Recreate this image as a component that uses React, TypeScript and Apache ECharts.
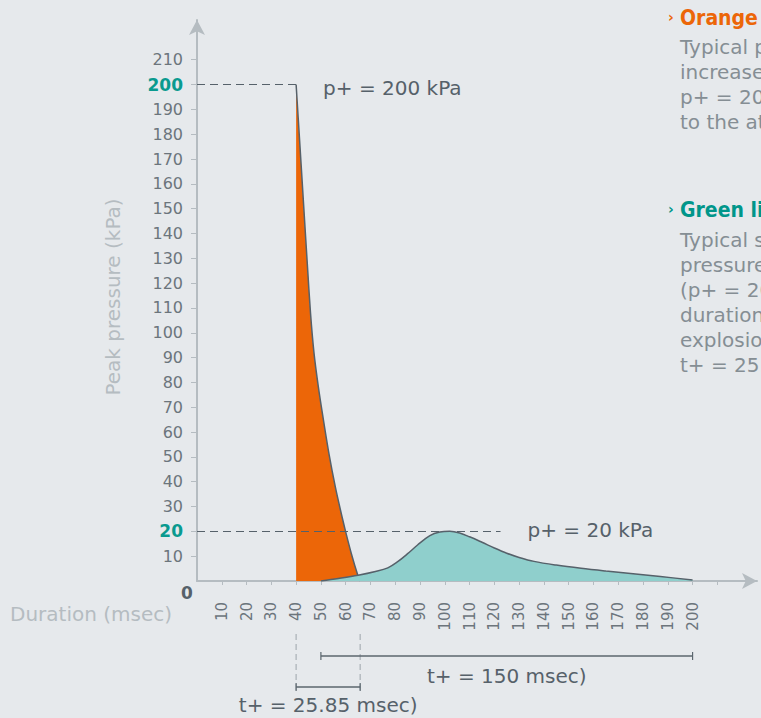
import React, { useEffect, useRef } from "react";
import * as echarts from "echarts";

// ---- data ----
const orangeT = [40, 41.5, 43, 44.5, 45.8, 47.2, 49, 51, 53.3, 55.8, 57.8, 59.8, 62.3, 64.9, 65.85];
const orangeP = [200, 176, 152, 128, 108, 92, 78, 65, 51, 38, 29, 20.6, 11, 2.3, 0];

const greenT = [50, 57, 65, 72, 77, 81, 85, 89, 94, 98, 102, 106, 110, 115, 120, 125, 130, 136, 145, 155, 165, 175, 187, 200];
const greenP = [0, 1.0, 2.3, 3.8, 5.3, 7.8, 11, 14.5, 18.3, 19.7, 20, 19.3, 17.8, 15.6, 13.3, 11.2, 9.5, 7.9, 6.4, 5.1, 4.0, 3.0, 1.8, 0.4];

const peakOrange = 200;
const peakGreen = 20;
const orangeStart = 40;
const orangeDuration = 25.85;
const greenStart = 50;
const greenDuration = 150;
const greenRefEnd = 122.5;

const xTickValues = [10, 20, 30, 40, 50, 60, 70, 80, 90, 100, 110, 120, 130, 140, 150, 160, 170, 180, 190, 200, 210];
const xLabelValues = [10, 20, 30, 40, 50, 60, 70, 80, 90, 100, 110, 120, 130, 140, 150, 160, 170, 180, 190, 200];
const yTickValues = [10, 20, 30, 40, 50, 60, 70, 80, 90, 100, 110, 120, 130, 140, 150, 160, 170, 180, 190, 200, 210];
const yHighlight = [20, 200];

const orangeText = ["Orange line:", "Typical peak pressure", "increase of detonation", "p+ = 200 kPa to 20 kPa", "to the atmosphere"];
const greenText = ["Green line:", "Typical shock wave", "pressure of deflagration", "(p+ = 20 kPa) with longer", "duration than the", "explosion of detonation", "t+ = 25.85 msec"];

const FONT = "DejaVu Sans";
const AXIS = "#b5bcc1";
const LABEL = "#6c757c";
const DARK = "#56616a";
const ORANGE = "#ec6608";
const TEAL = "#00968a";
const TEAL_FILL = "#8fcfcc";
const BG = "#e6e9ec";

export default function App() {
  const ref = useRef<HTMLDivElement>(null);
  useEffect(() => {
    if (!ref.current) return;
    const chart = echarts.init(ref.current, undefined, { renderer: "svg" });
    const option: any = {
      animation: false,
      backgroundColor: BG,
      textStyle: { fontFamily: FONT },
      grid: { left: 197, right: 4, top: 20, bottom: 137, containLabel: false },
      xAxis: {
        type: "value",
        min: 0,
        max: 226,
        axisLine: { show: true, lineStyle: { color: AXIS, width: 2 }, symbol: ["none", "arrow"], symbolSize: [12, 15] },
        axisTick: { show: true, customValues: xTickValues, length: 4, lineStyle: { color: AXIS, width: 1 } },
        axisLabel: { customValues: xLabelValues, rotate: 90, margin: 21, fontSize: 15, color: LABEL, fontFamily: FONT },
        splitLine: { show: false },
      },
      yAxis: {
        type: "value",
        min: 0,
        max: 226,
        axisLine: { show: true, lineStyle: { color: AXIS, width: 2 }, symbol: ["none", "arrow"], symbolSize: [12, 15] },
        axisTick: { show: true, customValues: yTickValues, length: 6, lineStyle: { color: AXIS, width: 1 } },
        axisLabel: {
          customValues: yTickValues,
          margin: 14,
          fontFamily: FONT,
          formatter: (v: number) => (yHighlight.includes(v) ? `{b|${v}}` : `{n|${v}}`),
          rich: {
            n: { fontSize: 16, color: LABEL, fontFamily: FONT },
            b: { fontSize: 17, color: "#0a9a8f", fontWeight: "bold", fontFamily: FONT },
          },
        },
        splitLine: { show: false },
      },
      series: [
        {
          type: "line",
          z: 1,
          data: [],
          markLine: {
            silent: true,
            symbol: ["none", "none"],
            label: { show: false },
            lineStyle: { type: [8, 5], color: DARK, width: 1.2 },
            data: [
              [{ coord: [0, peakOrange] }, { coord: [orangeStart, peakOrange] }],
              [{ coord: [0, peakGreen] }, { coord: [greenRefEnd, peakGreen] }],
            ],
          },
        },
        {
          type: "line",
          z: 3,
          showSymbol: false,
          smooth: 0.3,
          data: orangeT.map((t, i) => [t, orangeP[i]]),
          lineStyle: { color: DARK, width: 1.5 },
          areaStyle: { color: ORANGE, opacity: 1 },
        },
        {
          type: "line",
          z: 4,
          showSymbol: false,
          smooth: 0.35,
          data: greenT.map((t, i) => [t, greenP[i]]),
          lineStyle: { color: DARK, width: 1.5 },
          areaStyle: { color: TEAL_FILL, opacity: 1 },
        },
      ],
    };
    chart.setOption(option);

    const px = (x: number, y: number) => chart.convertToPixel({ xAxisIndex: 0, yAxisIndex: 0 }, [x, y]) as number[];
    const o = px(0, 0);
    const axisY = o[1];
    const p40 = px(orangeStart, 0);
    const p65 = px(orangeStart + orangeDuration, 0);
    const p50 = px(greenStart, 0);
    const p200 = px(greenStart + greenDuration, 0);
    const yPeakO = px(0, peakOrange)[1];
    const yPeakG = px(0, peakGreen)[1];
    const xRefEnd = px(greenRefEnd, 0)[0];

    const barColor = "#5b666e";
    const dashColor = "#a9b0b5";
    const graphics: any[] = [];
    const bar = (x1: number, x2: number, y: number) => {
      graphics.push({ type: "line", shape: { x1, y1: y, x2, y2: y }, style: { stroke: barColor, lineWidth: 1.5 } });
      graphics.push({ type: "line", shape: { x1, y1: y - 4, x2: x1, y2: y + 4 }, style: { stroke: barColor, lineWidth: 1.2 } });
      graphics.push({ type: "line", shape: { x1: x2, y1: y - 4, x2, y2: y + 4 }, style: { stroke: barColor, lineWidth: 1.2 } });
    };
    [p40[0], p65[0]].forEach((x) => {
      graphics.push({ type: "line", shape: { x1: x, y1: axisY + 53, x2: x, y2: axisY + 109 }, style: { stroke: dashColor, lineWidth: 1.2, lineDash: [6, 4] } });
    });
    bar(p50[0], p200[0], axisY + 75);
    bar(p40[0], p65[0], axisY + 106);
    const txt = (text: string, x: number, y: number, opts: any = {}) =>
      graphics.push({
        type: "text",
        x,
        y,
        style: { text, fontFamily: FONT, fontSize: 20, fill: DARK, align: "left", verticalAlign: "middle", ...opts },
      });
    txt(`t+ = ${greenDuration} msec)`, (p50[0] + p200[0]) / 2, axisY + 95, { align: "center" });
    txt(`t+ = ${orangeDuration} msec)`, (p40[0] + p65[0]) / 2, axisY + 124, { align: "center" });
    txt(`p+ = ${peakOrange} kPa`, p40[0] + 27, yPeakO + 3);
    txt(`p+ = ${peakGreen} kPa`, xRefEnd + 27, yPeakG - 1);
    txt("0", o[0] - 10, axisY + 12, { align: "center", fontWeight: "bold", fontSize: 17, fill: DARK });
    txt("Duration (msec)", 10, axisY + 33, { fill: AXIS });
    graphics.push({
      type: "text",
      x: 113,
      y: 297,
      rotation: Math.PI / 2,
      style: { text: "Peak pressure (kPa)", fontFamily: FONT, fontSize: 20, fill: AXIS, align: "center", verticalAlign: "middle" },
    });
    // right side notes (cut off at the right edge, as in the reference)
    const noteX = 680;
    const header = (text: string, y: number, color: string) => {
      txt("›", noteX - 12, y - 1, { fill: color, fontSize: 14, fontWeight: "bold" });
      txt(text, noteX, y, { fill: color, fontSize: 21, fontWeight: "bold", fontFamily: "DejaVu Sans Condensed, DejaVu Sans" });
    };
    header(orangeText[0], 18, ORANGE);
    orangeText.slice(1).forEach((t, i) => txt(t, noteX, 47 + i * 25, { fill: "#858e94" }));
    header(greenText[0], 210, TEAL);
    greenText.slice(1).forEach((t, i) => txt(t, noteX, 240 + i * 25, { fill: "#858e94" }));

    chart.setOption({ graphic: graphics });
    return () => chart.dispose();
  }, []);
  return <div ref={ref} style={{ position: "absolute", left: 0, top: 0, width: 761, height: 718 }} />;
}
